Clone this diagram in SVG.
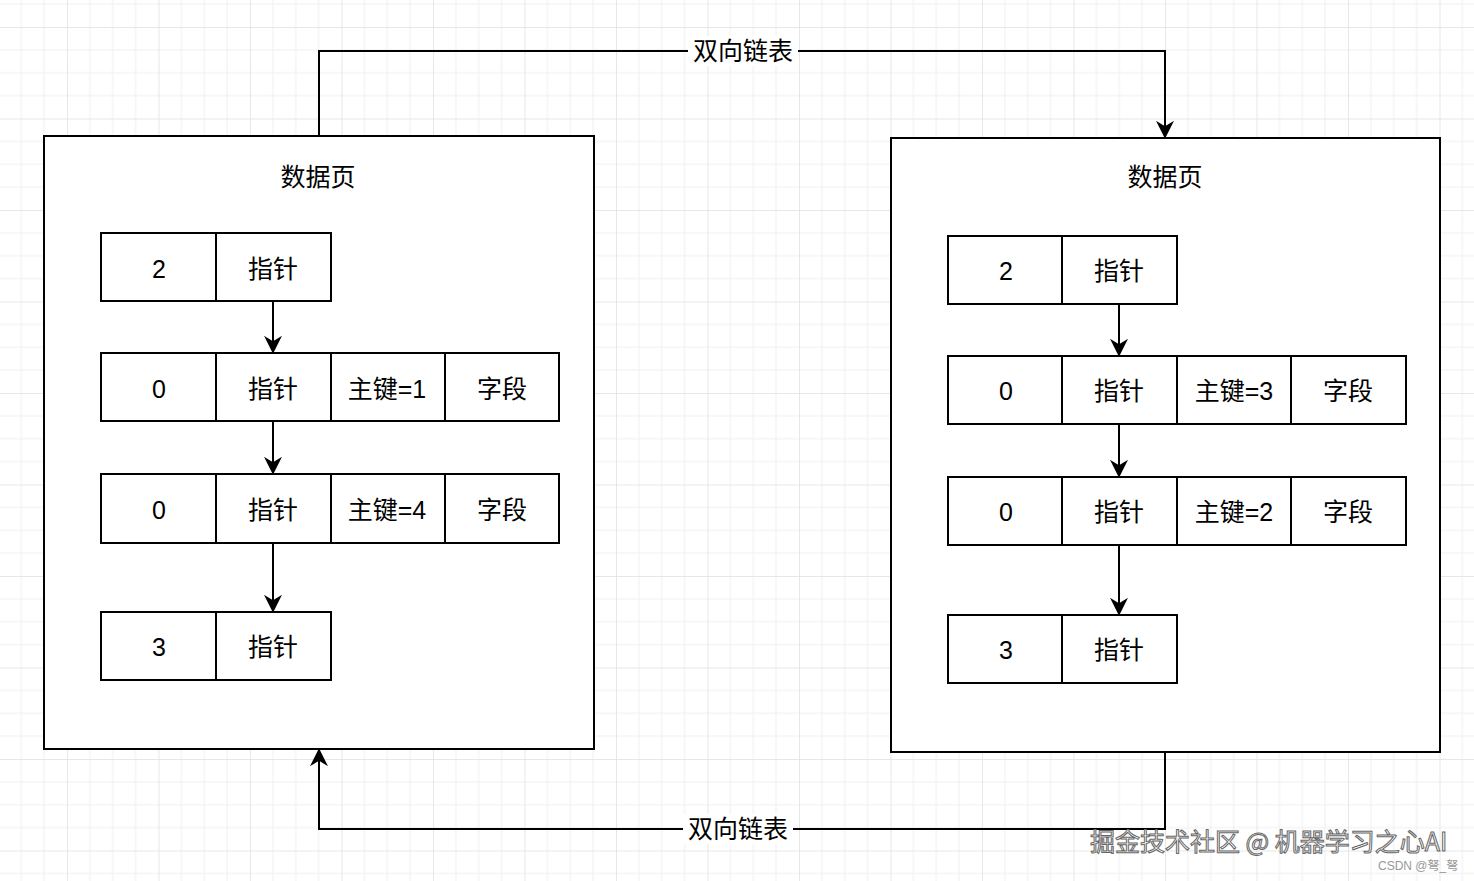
<svg xmlns="http://www.w3.org/2000/svg" width="1474" height="881" viewBox="0 0 1474 881">
<style>
.c{fill:#fff;stroke:#000;stroke-width:2}
.t{font-family:"Liberation Sans","Noto Sans CJK SC",sans-serif;font-size:25px;text-anchor:middle;dominant-baseline:central;fill:#000}
.l{fill:none;stroke:#000;stroke-width:2}
.wm{font-family:"Noto Sans CJK SC",sans-serif;font-size:25px;fill:#fff;stroke:#666;stroke-width:1}
</style>
<defs>
<pattern id="g" x="-24.5" y="27" width="91.5" height="91.5" patternUnits="userSpaceOnUse">
<path d="M22.9 0V91.5M45.75 0V91.5M68.6 0V91.5M0 22.9H91.5M0 45.75H91.5M0 68.6H91.5" stroke="#efefef" stroke-width="1" fill="none"/>
<path d="M0 0V91.5M0 0H91.5" stroke="#e0e0e0" stroke-width="1.5" fill="none"/>
</pattern>
<marker id="a" viewBox="0 0 10 10" refX="9" refY="5" markerWidth="9" markerHeight="9" markerUnits="userSpaceOnUse" orient="auto"><path d="M0 0L10 5L0 10L3 5Z" fill="#000"/></marker>
<marker id="b" viewBox="0 0 10 10" refX="9" refY="5" markerWidth="18" markerHeight="18" markerUnits="userSpaceOnUse" orient="auto"><path d="M0 0L10 5L0 10L3 5Z" fill="#000"/></marker>
</defs>
<rect width="1474" height="881" fill="#fff"/>
<rect width="1474" height="881" fill="url(#g)"/>
<g id="page1">
<rect class="c" x="44" y="136" width="550" height="613"/>
<text class="t" x="318" y="177">数据页</text>
</g>
<g id="page2">
<rect class="c" x="891" y="138" width="549" height="614"/>
<text class="t" x="1165" y="177">数据页</text>
</g>
<g id="p1r1"><rect class="c" x="101" y="233" width="115" height="68"/><rect class="c" x="216" y="233" width="115" height="68"/><text class="t" x="159" y="269">2</text><text class="t" x="273" y="269">指针</text></g>
<g id="p1r2"><rect class="c" x="101" y="353" width="115" height="68"/><rect class="c" x="216" y="353" width="115" height="68"/><rect class="c" x="331" y="353" width="114" height="68"/><rect class="c" x="445" y="353" width="114" height="68"/><text class="t" x="159" y="389">0</text><text class="t" x="273" y="389">指针</text><text class="t" x="387" y="389">主键=1</text><text class="t" x="502" y="389">字段</text></g>
<g id="p1r3"><rect class="c" x="101" y="474" width="115" height="69"/><rect class="c" x="216" y="474" width="115" height="69"/><rect class="c" x="331" y="474" width="114" height="69"/><rect class="c" x="445" y="474" width="114" height="69"/><text class="t" x="159" y="510">0</text><text class="t" x="273" y="510">指针</text><text class="t" x="387" y="510">主键=4</text><text class="t" x="502" y="510">字段</text></g>
<g id="p1r4"><rect class="c" x="101" y="612" width="115" height="68"/><rect class="c" x="216" y="612" width="115" height="68"/><text class="t" x="159" y="647">3</text><text class="t" x="273" y="647">指针</text></g>
<g id="p2r1"><rect class="c" x="948" y="236" width="114" height="68"/><rect class="c" x="1062" y="236" width="115" height="68"/><text class="t" x="1006" y="271">2</text><text class="t" x="1119" y="271">指针</text></g>
<g id="p2r2"><rect class="c" x="948" y="356" width="114" height="68"/><rect class="c" x="1062" y="356" width="115" height="68"/><rect class="c" x="1177" y="356" width="114" height="68"/><rect class="c" x="1291" y="356" width="115" height="68"/><text class="t" x="1006" y="391">0</text><text class="t" x="1119" y="391">指针</text><text class="t" x="1234" y="391">主键=3</text><text class="t" x="1348" y="391">字段</text></g>
<g id="p2r3"><rect class="c" x="948" y="477" width="114" height="68"/><rect class="c" x="1062" y="477" width="115" height="68"/><rect class="c" x="1177" y="477" width="114" height="68"/><rect class="c" x="1291" y="477" width="115" height="68"/><text class="t" x="1006" y="512">0</text><text class="t" x="1119" y="512">指针</text><text class="t" x="1234" y="512">主键=2</text><text class="t" x="1348" y="512">字段</text></g>
<g id="p2r4"><rect class="c" x="948" y="615" width="114" height="68"/><rect class="c" x="1062" y="615" width="115" height="68"/><text class="t" x="1006" y="650">3</text><text class="t" x="1119" y="650">指针</text></g>
<g id="connectors">
<path class="l" d="M273 301V352" marker-end="url(#b)"/>
<path class="l" d="M273 421V473" marker-end="url(#b)"/>
<path class="l" d="M273 543V611" marker-end="url(#b)"/>
<path class="l" d="M1119 304V355" marker-end="url(#b)"/>
<path class="l" d="M1119 424V476" marker-end="url(#b)"/>
<path class="l" d="M1119 545V614" marker-end="url(#b)"/>
<path class="l" d="M319 136V51H1165V137" marker-end="url(#b)"/>
<path class="l" d="M1165 752V829H319V750" marker-end="url(#b)"/>
<rect x="688" y="36" width="110" height="30" fill="#fff"/>
<text class="t" x="743" y="51">双向链表</text>
<rect x="683" y="814" width="110" height="30" fill="#fff"/>
<text class="t" x="738" y="829">双向链表</text>
</g>
<text class="wm" x="1090" y="851">掘金技术社区 @ 机器学习之心AI</text>
<text x="1378" y="870" font-family="Liberation Sans,Noto Sans CJK SC,sans-serif" font-size="12" fill="#999">CSDN @弩_弩</text>
</svg>
